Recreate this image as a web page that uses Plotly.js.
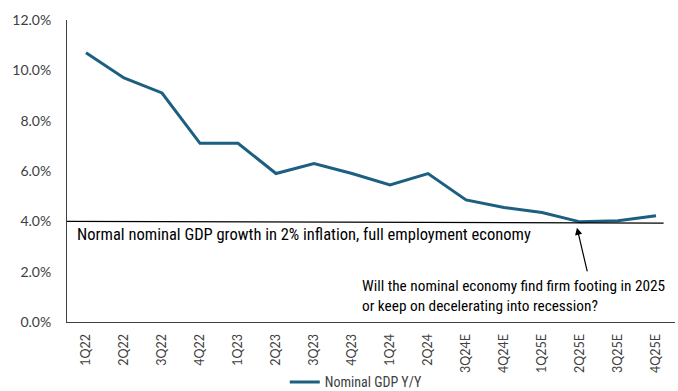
<!DOCTYPE html>
<html>
<head>
<meta charset="utf-8">
<script src="https://cdn.plot.ly/plotly-3.0.1.min.js"></script>
<style>html,body{margin:0;padding:0;background:#fff;}#chart{width:678px;height:391px;}</style>
</head>
<body>
<div id="chart"></div>
<script>
const quarters = ["1Q22","2Q22","3Q22","4Q22","1Q23","2Q23","3Q23","4Q23","1Q24","2Q24","3Q24E","4Q24E","1Q25E","2Q25E","3Q25E","4Q25E"];
const nominalGdpYoY = [10.7, 9.7, 9.1, 7.1, 7.1, 5.9, 6.3, 5.9, 5.45, 5.9, 4.85, 4.55, 4.35, 3.98, 4.02, 4.22];
const normalLineX = [-0.5, 15.2];
const normalLineY = [4.0, 3.93];
const yTickVals = [0, 2, 4, 6, 8, 10, 12];

const idx = quarters.map((q, i) => i);
const narrow = '"Liberation Sans Narrow", "Arial Narrow", "Roboto Condensed", sans-serif';

const traces = [
  {
    x: idx, y: nominalGdpYoY, type: 'scatter', mode: 'lines',
    name: 'Nominal GDP Y/Y',
    line: {color: '#1c5f80', width: 3}
  },
  {
    x: normalLineX, y: normalLineY, type: 'scatter', mode: 'lines',
    showlegend: false, hoverinfo: 'skip',
    line: {color: '#000000', width: 1.3}
  }
];

const layout = {
  width: 678, height: 391,
  margin: {l: 67, r: 3, t: 20, b: 69},
  paper_bgcolor: '#ffffff', plot_bgcolor: '#ffffff',
  font: {family: 'Lato, sans-serif', color: '#404040', size: 13},
  showlegend: true,
  legend: {
    orientation: 'h', xref: 'container', yref: 'container',
    x: 0.42, xanchor: 'left', y: 0.022, yanchor: 'middle',
    font: {family: narrow, size: 14, color: '#404040'},
    itemwidth: 30
  },
  xaxis: {
    type: 'linear', range: [-0.5, 15.5], automargin: false,
    tickmode: 'array', tickvals: idx, ticktext: quarters,
    tickangle: -90, showgrid: false, zeroline: false,
    showline: true, linecolor: '#404040', linewidth: 1,
    ticks: '', ticklabelstandoff: 6, tickfont: {size: 12.5, color: '#404040'}
  },
  yaxis: {
    range: [0, 12], tickmode: 'array', tickvals: yTickVals, automargin: false,
    ticktext: yTickVals.map(v => v.toFixed(1) + '%'),
    showgrid: false, zeroline: false,
    showline: true, linecolor: '#404040', linewidth: 1,
    ticks: '', ticklabelstandoff: 12, tickfont: {size: 14, color: '#404040'}
  },
  annotations: [
    {
      x: -0.3, y: 3.48, xref: 'x', yref: 'y', xanchor: 'left', yanchor: 'middle',
      text: 'Normal nominal GDP growth in 2% inflation, full employment economy',
      showarrow: false, font: {family: narrow, size: 16.5, color: '#000000'}
    },
    {
      x: 7.2, y: 1.05, xref: 'x', yref: 'y', xanchor: 'left', yanchor: 'middle', align: 'left',
      text: 'Will the nominal economy find firm footing in 2025<br>or keep on decelerating into recession?',
      showarrow: false, font: {family: narrow, size: 15.3, color: '#000000'}
    },
    {
      x: 12.92, y: 3.75, xref: 'x', yref: 'y',
      ax: 13.2, ay: 1.95, axref: 'x', ayref: 'y',
      text: '', showarrow: true, arrowhead: 2, arrowsize: 1.2, arrowwidth: 1.2, arrowcolor: '#000000'
    }
  ]
};

Plotly.newPlot('chart', traces, layout, {displayModeBar: false, staticPlot: true});
</script>
</body>
</html>
